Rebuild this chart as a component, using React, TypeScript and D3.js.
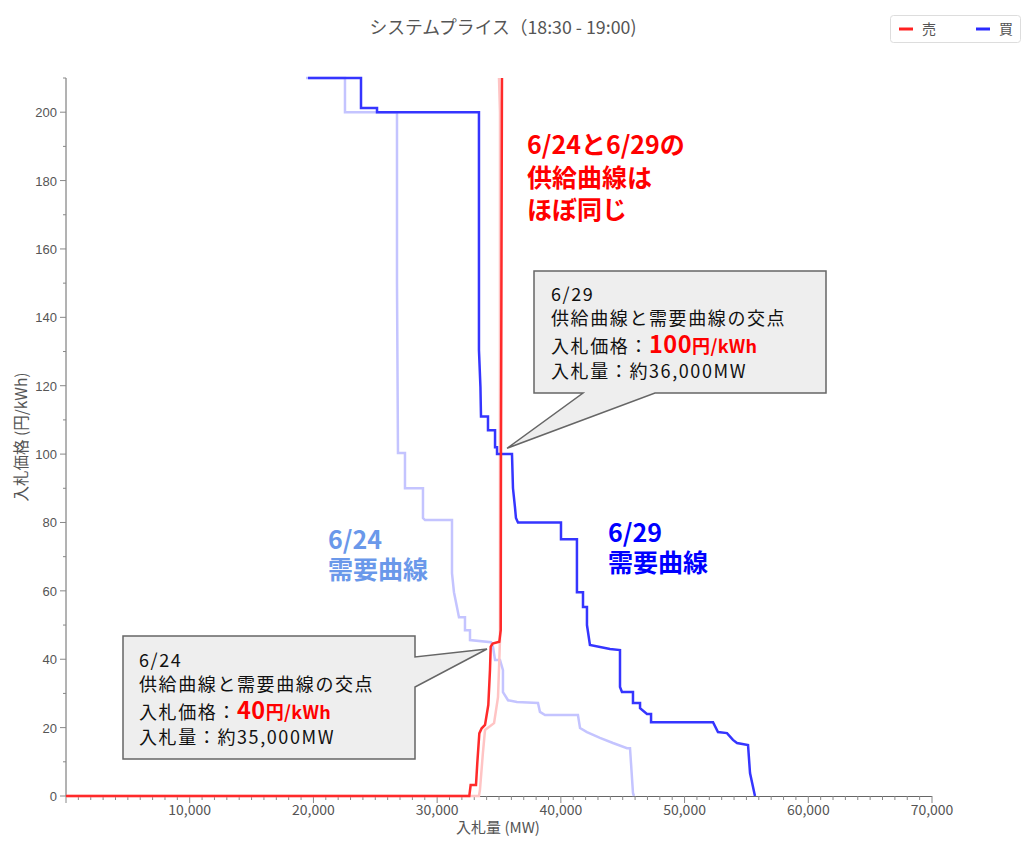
import React from "react";
import * as d3 from "d3";

const W = 1036;
const H = 842;

// [quantity MW, price 円/kWh]
const demand0629: [number, number][] = [
  [19560, 210], [23845, 210], [23845, 201.2], [25140, 201.2], [25140, 200], [33380, 200],
  [33380, 130.4], [33500, 119.6], [33545, 111], [34110, 111], [34110, 107], [34680, 107],
  [34680, 102], [34840, 102], [34840, 100], [36050, 100], [36130, 90], [36290, 84.5],
  [36370, 81.3], [36535, 80], [40010, 80], [40010, 75.1], [41300, 75.1], [41300, 59.6],
  [41790, 59.6], [41790, 55.3], [42110, 55.3], [42110, 50], [42350, 44.2], [43970, 43],
  [44780, 42.7], [44780, 31.9], [44940, 30.4], [45830, 30.4], [45830, 27.2], [46400, 27.2],
  [46400, 25.7], [46960, 24], [47290, 24], [47290, 21.6], [52300, 21.6], [52700, 18.7],
  [53430, 18.4], [53910, 16.4], [54240, 15.5], [55130, 14.9], [55290, 6.7], [55690, 0],
];

const demand0624: [number, number][] = [
  [19400, 210], [22550, 210], [22550, 200], [26755, 200], [26755, 150], [26835, 100.3],
  [27400, 100.3], [27400, 90], [28855, 90], [28855, 81.3], [29020, 80.7], [31200, 80.7],
  [31200, 65.2], [31360, 59.6], [31600, 55.3], [31765, 52.3], [32250, 52.3], [32250, 48.5],
  [32655, 48.5], [32655, 45.6], [34350, 45], [34515, 43.6], [34680, 39.8], [35080, 39.8],
  [35320, 36.8], [35320, 30.4], [35730, 28], [36450, 27.5], [38150, 27.2], [38310, 24.6],
  [38720, 23.7], [41380, 23.7], [41550, 19.9], [42110, 18.7], [43160, 17], [44210, 15.5],
  [45350, 14], [45590, 14], [45830, 0.9], [45910, 0],
];

const supply0624: [number, number][] = [
  [0, 0], [32600, 0], [32710, 3.2], [33140, 3.2], [33245, 9.6], [33410, 18.3], [33600, 19.8],
  [33870, 20.8], [34135, 26.6], [34270, 36.8], [34330, 43.7], [34490, 44.6], [35025, 45.1],
  [35140, 48.5], [35160, 101], [35240, 210],
];

const supply0629: [number, number][] = [
  [0, 0], [33380, 0], [33460, 1.8], [33700, 12.6], [33870, 19.3], [34600, 21.3],
  [34920, 28.9], [35080, 45.6], [35080, 200], [35000, 210],
];

const xMajorTicks = [10000, 20000, 30000, 40000, 50000, 60000, 70000];
const yMajorTicks = [0, 20, 40, 60, 80, 100, 120, 140, 160, 180, 200];

const titleText = "システムプライス（18:30 - 19:00)";
const legendItems = [
  { label: "売", color: "#ff2020" },
  { label: "買", color: "#2a2aff" },
];

// callout intersection points [MW, price]
const tip0629: [number, number] = [35650, 101.7];
const tip0624: [number, number] = [34030, 43];

export default function App() {
  const x = d3.scaleLinear().domain([0, 70000]).range([66, 932]);
  const y = d3.scaleLinear().domain([0, 210]).range([796, 78]);
  const line = d3
    .line<[number, number]>()
    .x((d) => x(d[0]))
    .y((d) => y(d[1]));

  const xMinor = d3.range(0, 70001, 1000);
  const yMinor = d3.range(0, 211, 10);

  const jp = "'Noto Sans CJK JP', 'Noto Sans', sans-serif";
  const sans = "'Liberation Sans', Arial, sans-serif";

  const t29 = [x(tip0629[0]), y(tip0629[1])];
  const t24 = [x(tip0624[0]), y(tip0624[1])];

  const box29 = `M534,271 H826 V393 H655 L${t29[0]},${t29[1]} L583,393 H534 Z`;
  const box24 = `M123,636 H415 V657 L${t24[0]},${t24[1]} L415,687 V759 H123 Z`;

  const boxFont = 18;
  const boxSpacing = 1.6;

  return (
    <div style={{ position: "absolute", left: 0, top: 0 }}>
      <svg width={W} height={H} style={{ display: "block", background: "#fff" }}>
        <rect width={W} height={H} fill="#fff" />
        <text x={503} y={34} textAnchor="middle" fontFamily={jp} fontSize={17.8} fill="#555">
          {titleText}
        </text>
        {/* legend */}
        <rect x={890.5} y={15.5} width={130} height={27} rx={3} fill="#fff" stroke="#ddd" />
        {legendItems.map((it, i) => (
          <g key={it.label} transform={`translate(${899 + i * 77},29)`}>
            <line x1={0} x2={14} y1={0} y2={0} stroke={it.color} strokeWidth={3} />
            <text x={23} y={5} fontFamily={jp} fontSize={14} fill="#555">
              {it.label}
            </text>
          </g>
        ))}

        {/* axes */}
        <line x1={66} x2={66} y1={78} y2={796} stroke="#666" strokeWidth={1} />
        <line x1={66} x2={932} y1={796.5} y2={796.5} stroke="#666" strokeWidth={1} />
        {xMinor.map((v) => (
          <line key={"xm" + v} x1={x(v)} x2={x(v)} y1={796} y2={v % 10000 === 0 ? 803 : 800} stroke="#888" />
        ))}
        {yMinor.map((v) => (
          <line key={"ym" + v} x1={v % 20 === 0 ? 60 : 63} x2={66} y1={y(v)} y2={y(v)} stroke="#888" />
        ))}
        {xMajorTicks.map((v) => (
          <text key={"xl" + v} x={x(v)} y={815} textAnchor="middle" fontFamily={jp} fontSize={14} fill="#555">
            {d3.format(",")(v)}
          </text>
        ))}
        {yMajorTicks.map((v) => (
          <text key={"yl" + v} x={57} y={y(v) + 5} textAnchor="end" fontFamily={sans} fontSize={13} fill="#555">
            {v}
          </text>
        ))}
        <text x={498} y={833} textAnchor="middle" fontFamily={jp} fontSize={15} fill="#555">
          入札量 (MW)
        </text>
        <text
          transform="translate(27,437) rotate(-90)"
          textAnchor="middle"
          fontFamily={jp}
          fontSize={15.5}
          fill="#555"
        >
          入札価格 (円/kWh)
        </text>

        {/* curves */}
        <g fill="none" strokeWidth={2.5} strokeLinejoin="miter">
          <path d={line(demand0624) || ""} stroke="#c4c4ff" />
          <path d={line(supply0629) || ""} stroke="#ffc4c4" />
          <path d={line(demand0629) || ""} stroke="#3535ff" />
          <path d={line(supply0624) || ""} stroke="#ff2a2a" />
        </g>

        {/* annotations */}
        <g fontFamily={jp} fontWeight="bold" fontSize={25}>
          <text fill="#ff0000">
            <tspan x={527} y={154}>6/24と6/29の</tspan>
            <tspan x={527} y={187}>供給曲線は</tspan>
            <tspan x={527} y={219}>ほぼ同じ</tspan>
          </text>
          <text fill="#0000ff">
            <tspan x={608} y={542}>6/29</tspan>
            <tspan x={608} y={572}>需要曲線</tspan>
          </text>
          <text fill="#6a98ea">
            <tspan x={328} y={549}>6/24</tspan>
            <tspan x={328} y={579}>需要曲線</tspan>
          </text>
        </g>

        <path d={box29} fill="#eeeeee" stroke="#666" strokeWidth={1.5} />
        <g fontFamily={jp} fontSize={boxFont} letterSpacing={boxSpacing} fill="#111">
          <text x={551} y={301}>6/29</text>
          <text x={551} y={325}>供給曲線と需要曲線の交点</text>
          <text x={551} y={353}>
            入札価格：
            <tspan fill="#ff0000" fontWeight="bold" fontSize={23.5} letterSpacing={0.5}>100</tspan>
            <tspan fill="#ff0000" fontWeight="bold" fontSize={18} letterSpacing={0.3}>円/kWh</tspan>
          </text>
          <text x={551} y={378}>入札量：約36,000MW</text>
        </g>

        <path d={box24} fill="#eeeeee" stroke="#666" strokeWidth={1.5} />
        <g fontFamily={jp} fontSize={boxFont} letterSpacing={boxSpacing} fill="#111">
          <text x={139} y={667}>6/24</text>
          <text x={139} y={691}>供給曲線と需要曲線の交点</text>
          <text x={139} y={719}>
            入札価格：
            <tspan fill="#ff0000" fontWeight="bold" fontSize={23.5} letterSpacing={0.5}>40</tspan>
            <tspan fill="#ff0000" fontWeight="bold" fontSize={18} letterSpacing={0.3}>円/kWh</tspan>
          </text>
          <text x={139} y={744}>入札量：約35,000MW</text>
        </g>
      </svg>
    </div>
  );
}
